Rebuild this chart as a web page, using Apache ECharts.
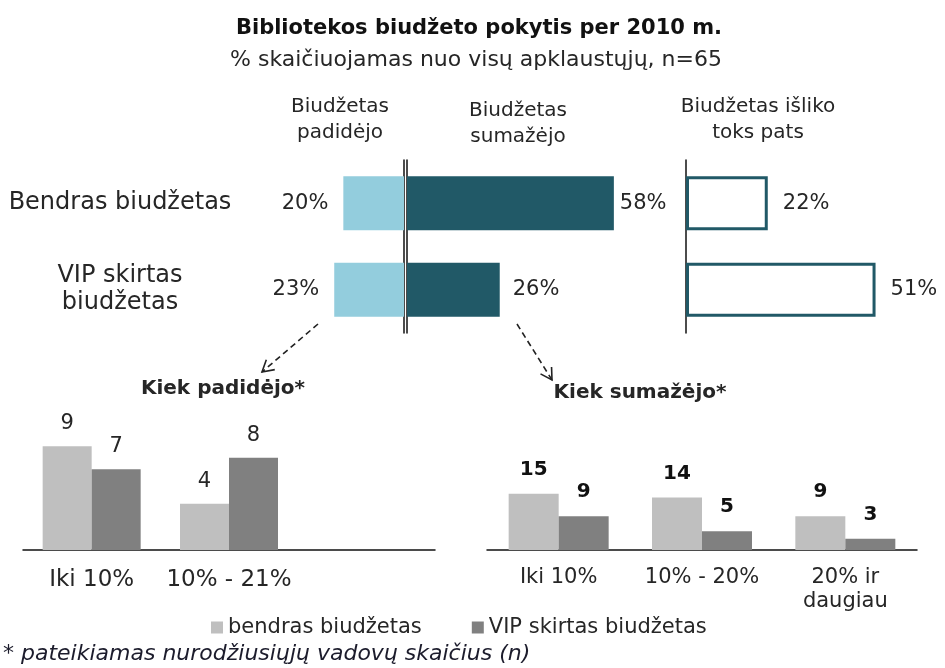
<!DOCTYPE html>
<html>
<head>
<meta charset="utf-8">
<script src="https://cdn.jsdelivr.net/npm/echarts@6/dist/echarts.min.js"></script>
<style>
  html, body { margin: 0; padding: 0; background: #fff; }
  #chart { width: 945px; height: 668px; }
</style>
</head>
<body>
<div id="chart"></div>
<script>
// virsutine dalis - procentai
var topCats = ['Bendras biudžetas', 'VIP skirtas\nbiudžetas'];
var padidejo = [20, 23];
var sumazejo = [58, 26];
var tokspats = [22, 51];

// apatine dalis - kiek padidejo / sumazejo (n)
var padCats = ['Iki 10%', '10% - 21%', ''];
var padBendras = [9, 4, null];
var padVip = [7, 8, null];
var sumCats = ['Iki 10%', '10% - 20%', '20% ir\ndaugiau'];
var sumBendras = [15, 14, 9];
var sumVip = [9, 5, 3];

var legendNames = ['bendras biudžetas', 'VIP skirtas biudžetas'];

var FONT = 'DejaVu Sans';
var TXT = '#262626';
var LIGHT_BLUE = '#93CDDD';
var DARK_TEAL = '#215967';
var GRAY_L = '#BFBFBF';
var GRAY_D = '#808080';

// rodykle su punktyru
function arrow(x1, y1, x2, y2) {
    var dx = x1 - x2, dy = y1 - y2;
    var len = Math.sqrt(dx * dx + dy * dy);
    var ux = dx / len, uy = dy / len;
    var a = Math.PI / 6, h = 13;
    var p1 = [x2 + h * (ux * Math.cos(a) - uy * Math.sin(a)), y2 + h * (ux * Math.sin(a) + uy * Math.cos(a))];
    var p2 = [x2 + h * (ux * Math.cos(-a) - uy * Math.sin(-a)), y2 + h * (ux * Math.sin(-a) + uy * Math.cos(-a))];
    return [
        { type: 'line', shape: { x1: x1, y1: y1, x2: x2, y2: y2 },
          style: { stroke: '#222', lineWidth: 1.6, lineDash: [6, 4] } },
        { type: 'polyline', shape: { points: [p1, [x2, y2], p2] },
          style: { stroke: '#222', lineWidth: 1.6, fill: null } }
    ];
}

function headText(x, y, txt, size, bold) {
    return {
        type: 'text', x: x, y: y,
        style: { text: txt, fontFamily: FONT, fontSize: size, fontWeight: bold ? 'bold' : 'normal',
                 fill: TXT, align: 'center', verticalAlign: 'middle', lineHeight: 26 }
    };
}

var chart = echarts.init(document.getElementById('chart'));

var pctLabel = function (pos, dist) {
    return { show: true, position: pos, distance: dist, formatter: '{c}%',
             fontFamily: FONT, fontSize: 21, color: TXT };
};

var option = {
    backgroundColor: '#fff',
    animation: false,
    title: [
        { text: 'Bibliotekos biudžeto pokytis per 2010 m.', left: 474, top: 13, textAlign: 'center',
          textStyle: { fontFamily: FONT, fontSize: 21, fontWeight: 'bold', color: '#111' } },
        { text: '% skaičiuojamas nuo visų apklaustųjų, n=65', left: 471, top: 44, textAlign: 'center',
          textStyle: { fontFamily: FONT, fontSize: 22, fontWeight: 'normal', color: TXT } }
    ],
    legend: {
        data: legendNames, left: 206, top: 612, icon: 'rect', itemWidth: 12, itemHeight: 12,
        itemGap: 50, textStyle: { fontFamily: FONT, fontSize: 21, color: TXT }
    },
    grid: [
        { left: 313, width: 91, top: 160, height: 173 },
        { left: 407, width: 214, top: 160, height: 173 },
        { left: 686, width: 223, top: 160, height: 173 },
        { left: 23, width: 412, top: 400, height: 150 },
        { left: 487, width: 430, top: 400, height: 150 }
    ],
    xAxis: [
        { gridIndex: 0, type: 'value', min: 0, max: 30, inverse: true, show: false },
        { gridIndex: 1, type: 'value', min: 0, max: 60, show: false },
        { gridIndex: 2, type: 'value', min: 0, max: 60, show: false },
        { gridIndex: 3, type: 'category', data: padCats,
          axisLine: { lineStyle: { color: '#111', width: 1.5 } }, axisTick: { show: false },
          axisLabel: { interval: 0, margin: 19, fontFamily: FONT, fontSize: 23, color: TXT } },
        { gridIndex: 4, type: 'category', data: sumCats,
          axisLine: { lineStyle: { color: '#111', width: 1.5 } }, axisTick: { show: false },
          axisLabel: { interval: 0, margin: 16, fontFamily: FONT, fontSize: 21, color: TXT, lineHeight: 24 } }
    ],
    yAxis: [
        { gridIndex: 0, type: 'category', data: topCats, inverse: true, position: 'right',
          axisLine: { lineStyle: { color: '#111', width: 1.5 } }, axisTick: { show: false },
          axisLabel: { show: false } },
        { gridIndex: 0, type: 'category', data: topCats, inverse: true, position: 'left',
          axisLine: { show: false }, axisTick: { show: false },
          axisLabel: { margin: 193, align: 'center', fontFamily: FONT, fontSize: 24,
                       color: TXT, lineHeight: 27 } },
        { gridIndex: 1, type: 'category', data: topCats, inverse: true,
          axisLine: { lineStyle: { color: '#111', width: 1.5 } }, axisTick: { show: false },
          axisLabel: { show: false } },
        { gridIndex: 2, type: 'category', data: topCats, inverse: true,
          axisLine: { lineStyle: { color: '#111', width: 1.5 } }, axisTick: { show: false },
          axisLabel: { show: false } },
        { gridIndex: 3, type: 'value', min: 0, max: 13, show: false },
        { gridIndex: 4, type: 'value', min: 0, max: 40, show: false }
    ],
    series: [
        { type: 'bar', name: 'Biudžetas padidėjo', xAxisIndex: 0, yAxisIndex: 0, data: padidejo,
          barWidth: 54, itemStyle: { color: LIGHT_BLUE }, label: pctLabel('left', 15) },
        { type: 'bar', name: 'Biudžetas sumažėjo', xAxisIndex: 1, yAxisIndex: 2,
          data: sumazejo.map(function (v, i) {
              return { value: v, label: { distance: i === 0 ? 6 : 13 } };
          }),
          barWidth: 54, itemStyle: { color: DARK_TEAL }, label: pctLabel('right', 13) },
        { type: 'bar', name: 'Biudžetas išliko toks pats', xAxisIndex: 2, yAxisIndex: 3, data: tokspats,
          barWidth: 54, itemStyle: { color: '#fff', borderColor: DARK_TEAL, borderWidth: 3 },
          label: pctLabel('right', 15) },

        { type: 'bar', name: legendNames[0], xAxisIndex: 3, yAxisIndex: 4, data: padBendras,
          barWidth: 49, barGap: '0%', itemStyle: { color: GRAY_L },
          label: { show: true, position: 'top', distance: 12, fontFamily: FONT, fontSize: 21, color: TXT } },
        { type: 'bar', name: legendNames[1], xAxisIndex: 3, yAxisIndex: 4, data: padVip,
          barWidth: 49, barGap: '0%', itemStyle: { color: GRAY_D },
          label: { show: true, position: 'top', distance: 12, fontFamily: FONT, fontSize: 21, color: TXT } },
        { type: 'bar', name: legendNames[0], xAxisIndex: 4, yAxisIndex: 5, data: sumBendras,
          barWidth: 50, barGap: '0%', itemStyle: { color: GRAY_L },
          label: { show: true, position: 'top', distance: 14, fontFamily: FONT, fontSize: 20,
                   fontWeight: 'bold', color: '#111' } },
        { type: 'bar', name: legendNames[1], xAxisIndex: 4, yAxisIndex: 5, data: sumVip,
          barWidth: 50, barGap: '0%', itemStyle: { color: GRAY_D },
          label: { show: true, position: 'top', distance: 14, fontFamily: FONT, fontSize: 20,
                   fontWeight: 'bold', color: '#111' } }
    ],
    graphic: [
        headText(340, 120, 'Biudžetas\npadidėjo', 20),
        headText(518, 124, 'Biudžetas\nsumažėjo', 20),
        headText(758, 120, 'Biudžetas išliko\ntoks pats', 20),
        headText(223, 389, 'Kiek padidėjo*', 20, true),
        headText(640, 393, 'Kiek sumažėjo*', 20, true),
        { type: 'text', left: 3, top: 643,
          style: { text: '* pateikiamas nurodžiusiųjų vadovų skaičius (n)', fontFamily: FONT,
                   fontSize: 22, fontStyle: 'italic', fill: '#1c1c2c' } }
    ].concat(arrow(318, 324, 262, 372), arrow(517, 324, 552, 380))
};

chart.setOption(option);
</script>
</body>
</html>
